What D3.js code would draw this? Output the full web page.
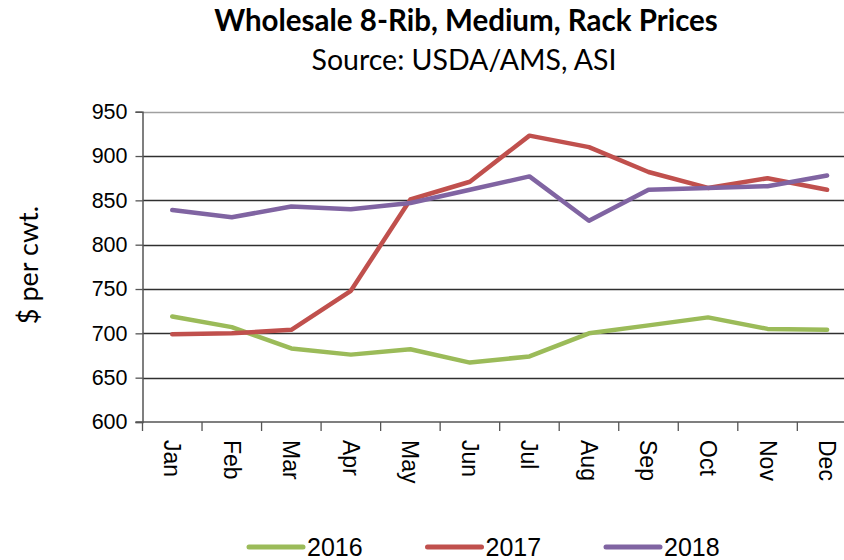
<!DOCTYPE html>
<html>
<head>
<meta charset="utf-8">
<script src="https://cdn.jsdelivr.net/npm/d3@7"></script>
<style>
  body { margin: 0; background: #fff; }
  svg { display: block; }
</style>
</head>
<body>
<svg id="chart" width="844" height="560"></svg>
<script>
var months = ["Jan", "Feb", "Mar", "Apr", "May", "Jun", "Jul", "Aug", "Sep", "Oct", "Nov", "Dec"];
var years = ["2016", "2017", "2018"];
var prices2016 = [719, 707, 683, 676, 682, 667, 674, 700, 709, 718, 705, 704];
var prices2017 = [699, 700, 704, 748, 851, 871, 923, 910, 882, 864, 875, 862];
var prices2018 = [839, 831, 843, 840, 847, 862, 877, 827, 862, 864, 866, 878];
var yTicks = [600, 650, 700, 750, 800, 850, 900, 950];
var colors = ["#9bbb59", "#c0504d", "#8064a2"];

var series = [prices2016, prices2017, prices2018];

var svg = d3.select('#chart');
var plotLeft = 142.5, plotTop = 111.7, plotBottom = 422;
var step = 59.53;

var x = d3.scaleBand().domain(months).range([plotLeft, plotLeft + step * months.length]);
var y = d3.scaleLinear().domain([600, 950]).range([plotBottom, plotTop]);

// titles
svg.append("text")
    .attr("x", 466).attr("y", 31)
    .attr("text-anchor", "middle")
    .style("font-family", "Lato, 'Open Sans', sans-serif")
    .style("font-weight", "bold")
    .style("font-size", "29.5px")
    .text("Wholesale 8-Rib, Medium, Rack Prices");

svg.append("text")
    .attr("x", 464).attr("y", 70)
    .attr("text-anchor", "middle")
    .style("font-family", "Lato, 'Open Sans', sans-serif")
    .style("font-size", "28.5px")
    .text("Source: USDA/AMS, ASI");

// gridlines
svg.append("g").selectAll("line")
    .data(yTicks.slice(1))
    .enter().append("line")
    .attr("x1", plotLeft).attr("x2", 844)
    .attr("y1", function (d) { return Math.round(y(d)) + 0.5; })
    .attr("y2", function (d) { return Math.round(y(d)) + 0.5; })
    .attr("stroke", function (d) { return d === 950 ? "#a0a0a0" : "#303030"; })
    .attr("stroke-width", 1.5);

// y axis
var yAxis = svg.append("g")
    .attr("transform", "translate(" + plotLeft + ",0)")
    .call(d3.axisLeft(y).tickValues(yTicks).tickSize(7).tickPadding(8));
yAxis.select(".domain").attr("stroke", "#555").attr("stroke-width", 1.5);
yAxis.selectAll(".tick line").attr("stroke", "#555").attr("stroke-width", 1.3);
yAxis.selectAll("text")
    .attr("fill", "#000")
    .style("font-family", "'Liberation Sans', Arial, sans-serif")
    .style("font-size", "21.5px");

// x axis, ticks between categories
var xAxis = svg.append("g").attr("transform", "translate(0," + plotBottom + ")");
xAxis.append("line")
    .attr("x1", plotLeft - 7).attr("x2", 844)
    .attr("stroke", "#555").attr("stroke-width", 1.5);
xAxis.selectAll(".tk")
    .data(months)
    .enter().append("line")
    .attr("class", "tk")
    .attr("x1", function (d) { return x(d); })
    .attr("x2", function (d) { return x(d); })
    .attr("y1", 0).attr("y2", 9)
    .attr("stroke", "#555").attr("stroke-width", 1.3);
xAxis.selectAll(".lbl")
    .data(months)
    .enter().append("text")
    .attr("class", "lbl")
    .attr("transform", function (d) {
        return "translate(" + (x(d) + x.bandwidth() / 2) + ",18) rotate(90)";
    })
    .attr("dy", "0.35em")
    .style("font-family", "'Liberation Sans', Arial, sans-serif")
    .style("font-size", "23px")
    .text(function (d) { return d; });

// y axis title
svg.append("text")
    .attr("transform", "translate(38,265) rotate(-90)")
    .attr("text-anchor", "middle")
    .style("font-family", "Lato, 'Open Sans', sans-serif")
    .style("font-size", "27px")
    .text("$ per cwt.");

// lines
var line = d3.line()
    .x(function (d, i) { return x(months[i]) + x.bandwidth() / 2; })
    .y(function (d) { return y(d); });

svg.append("g").selectAll("path")
    .data(series)
    .enter().append("path")
    .attr("d", line)
    .attr("fill", "none")
    .attr("stroke", function (d, i) { return colors[i]; })
    .attr("stroke-width", 4.5)
    .attr("stroke-linejoin", "round")
    .attr("stroke-linecap", "round");

// legend
var legend = svg.append("g").selectAll("g")
    .data(years)
    .enter().append("g")
    .attr("transform", function (d, i) { return "translate(" + (249 + i * 178.5) + ",547)"; });
legend.append("line")
    .attr("x1", 0).attr("x2", 54)
    .attr("stroke", function (d, i) { return colors[i]; })
    .attr("stroke-width", 5)
    .attr("stroke-linecap", "round");
legend.append("text")
    .attr("x", 58).attr("y", 8.5)
    .style("font-family", "'Liberation Sans', Arial, sans-serif")
    .style("font-size", "25px")
    .text(function (d) { return d; });
</script>
</body>
</html>
